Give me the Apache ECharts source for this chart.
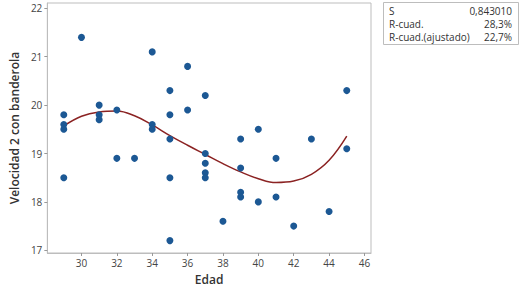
<!DOCTYPE html>
<html>
<head>
<meta charset="utf-8">
<script src="https://cdn.jsdelivr.net/npm/echarts@6/dist/echarts.min.js"></script>
<style>
  html, body { margin: 0; padding: 0; background: #fff; }
  #chart { width: 522px; height: 290px; }
</style>
</head>
<body>
<div id="chart"></div>
<script>
// observations (Edad, Velocidad 2 con banderola)
const edad = [29, 29, 29, 29, 30, 31, 31, 31, 32, 32, 33, 34, 34, 34, 35, 35, 35, 35, 35, 36, 36,
  37, 37, 37, 37, 37, 38, 39, 39, 39, 39, 40, 40, 41, 41, 42, 43, 44, 45, 45];
const velocidad = [19.8, 19.6, 19.5, 18.5, 21.4, 20.0, 19.8, 19.7, 19.9, 18.9, 18.9, 21.1, 19.6, 19.5,
  20.3, 19.8, 19.3, 18.5, 17.2, 20.8, 19.9, 20.2, 19.0, 18.8, 18.6, 18.5, 17.6, 19.3, 18.7, 18.2, 18.1,
  19.5, 18.0, 18.9, 18.1, 17.5, 19.3, 17.8, 20.3, 19.1];

// fitted cubic line
const fitX = [29, 30, 31, 32, 33, 34, 35, 36, 37, 38, 39, 40, 41, 42, 43, 44, 45];
const fitY = [19.57, 19.77, 19.86, 19.88, 19.78, 19.59, 19.37, 19.17, 18.98, 18.79, 18.62, 18.48, 18.40,
  18.43, 18.57, 18.86, 19.36];

const xTicks = [30, 32, 34, 36, 38, 40, 42, 44, 46];
const yTicks = [17, 18, 19, 20, 21, 22];

const statLabels = ['S', 'R-cuad.', 'R-cuad.(ajustado)'];
const statValues = ['0,843010', '28,3%', '22,7%'];

const FONT = '"Open Sans", "Noto Sans", sans-serif';

const chart = echarts.init(document.getElementById('chart'), null, { renderer: 'svg' });

const statText = [];
statLabels.forEach((s, i) => {
  statText.push({
    type: 'text', left: 389, top: 6 + i * 13,
    style: { text: s, font: '10px ' + FONT, fill: '#333' }
  });
  statText.push({
    type: 'text', right: 10, top: 6 + i * 13,
    style: { text: statValues[i], font: '10px ' + FONT, fill: '#333', align: 'right' }
  });
});

chart.setOption({
  animation: false,
  grid: {
    left: 37, top: 3, right: 151, bottom: 37,
    show: true, borderColor: '#bdbdbd', borderWidth: 1
  },
  xAxis: {
    type: 'value', min: 28.07, max: 46.37,
    name: 'Edad', nameLocation: 'middle', nameGap: 20,
    nameTextStyle: { fontFamily: FONT, fontSize: 12, fontWeight: 600, color: '#333' },
    axisLine: { lineStyle: { color: '#bdbdbd' } },
    axisTick: { show: true, length: 3, customValues: xTicks, lineStyle: { color: '#999' } },
    axisLabel: { customValues: xTicks, fontFamily: FONT, fontSize: 10, color: '#444', margin: 5 },
    splitLine: { show: false }
  },
  yAxis: {
    type: 'value', min: 16.944, max: 22.11,
    name: 'Velocidad 2 con banderola', nameLocation: 'middle', nameGap: 27,
    nameTextStyle: { fontFamily: FONT, fontSize: 12, fontWeight: 600, color: '#333' },
    axisLine: { show: true, lineStyle: { color: '#bdbdbd' } },
    axisTick: { show: true, length: 3, customValues: yTicks, lineStyle: { color: '#999' } },
    axisLabel: { customValues: yTicks, fontFamily: FONT, fontSize: 10, color: '#444', margin: 5 },
    splitLine: { show: false }
  },
  graphic: [
    {
      type: 'rect', left: 383, top: 2,
      shape: { width: 135, height: 42 },
      style: { fill: '#fff', stroke: '#bdbdbd', lineWidth: 1 }
    }
  ].concat(statText),
  series: [
    {
      type: 'scatter',
      data: edad.map((x, i) => [x, velocidad[i]]),
      symbolSize: 7,
      itemStyle: { color: '#1c5894', opacity: 1 },
      z: 3
    },
    {
      type: 'line',
      data: fitX.map((x, i) => [x, fitY[i]]),
      smooth: 0.4,
      showSymbol: false,
      lineStyle: { color: '#8b2323', width: 1.5 },
      z: 2
    }
  ]
});
</script>
</body>
</html>
